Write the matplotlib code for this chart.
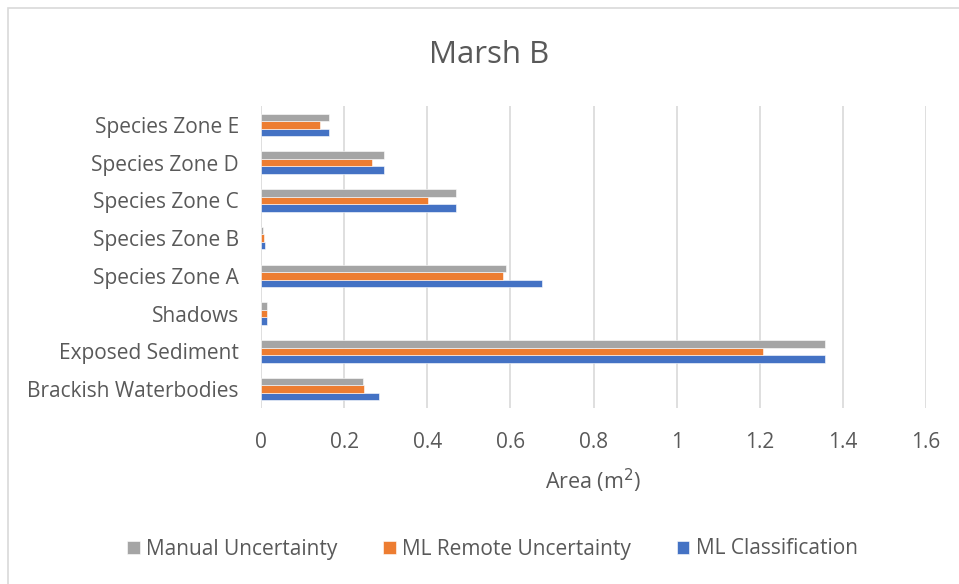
import matplotlib
matplotlib.use("Agg")
import matplotlib.pyplot as plt
import numpy as np
from matplotlib.patches import Rectangle

plt.rcParams['font.family'] = ['Open Sans', 'DejaVu Sans']

categories = ["Brackish Waterbodies", "Exposed Sediment", "Shadows",
              "Species Zone A", "Species Zone B", "Species Zone C",
              "Species Zone D", "Species Zone E"]
ml_classification = [0.285, 1.357, 0.015, 0.675, 0.010, 0.468, 0.295, 0.164]
ml_remote_uncertainty = [0.248, 1.207, 0.014, 0.583, 0.007, 0.401, 0.267, 0.143]
manual_uncertainty = [0.246, 1.357, 0.014, 0.590, 0.006, 0.468, 0.295, 0.164]
x_ticks = [0, 0.2, 0.4, 0.6, 0.8, 1.0, 1.2, 1.4, 1.6]
x_tick_labels = ["0", "0.2", "0.4", "0.6", "0.8", "1", "1.2", "1.4", "1.6"]

text_col = "#595959"
grid_col = "#D9D9D9"

fig = plt.figure(figsize=(9.59, 5.84), dpi=100)
fig.patches.append(Rectangle((8 / 959, -0.1), 1.2, (1 - 8 / 584) + 0.1,
                             transform=fig.transFigure, fill=False,
                             edgecolor=grid_col, linewidth=1.2))

ax = fig.add_axes([261 / 959, 1 - 408 / 584, 665 / 959, 302 / 584])
y = np.arange(len(categories))
h = 0.2
series = [
    (ml_classification, -h, "#4472C4", "ML Classification"),
    (ml_remote_uncertainty, 0.0, "#ED7D31", "ML Remote Uncertainty"),
    (manual_uncertainty, h, "#A5A5A5", "Manual Uncertainty"),
]
handles = {}
for vals, off, col, lab in series:
    handles[lab] = ax.barh(y + off, vals, height=h, color=col,
                           edgecolor="white", linewidth=0.4, label=lab,
                           zorder=3)

ax.set_xlim(0, 1.6)
ax.set_ylim(-0.5, len(categories) - 0.5)
ax.set_xticks(x_ticks)
ax.set_xticklabels(x_tick_labels)
ax.set_yticks(y)
ax.set_yticklabels(categories)
ax.tick_params(axis='both', length=0, labelsize=15, colors=text_col)
ax.tick_params(axis='x', pad=17)
ax.tick_params(axis='y', pad=16)
ax.grid(axis='x', color=grid_col, linewidth=1.2, zorder=0)
for s in ax.spines.values():
    s.set_visible(False)

ax.set_xlabel("Area (m$^2$)", fontsize=15.5, color=text_col, labelpad=10)
fig.text(0.5105, 1 - 55 / 584, "Marsh B", ha='center', va='center',
         fontsize=22.5, color=text_col)

order = ["Manual Uncertainty", "ML Remote Uncertainty", "ML Classification"]
fig.legend([handles[k] for k in order], order, loc='center',
           bbox_to_anchor=(0.5136, 1 - 549 / 584), ncol=3, frameon=False,
           fontsize=15, labelcolor=text_col, handlelength=0.6,
           handleheight=0.6, handletextpad=0.3, columnspacing=2.2)

fig.savefig("out.png", dpi=100)
